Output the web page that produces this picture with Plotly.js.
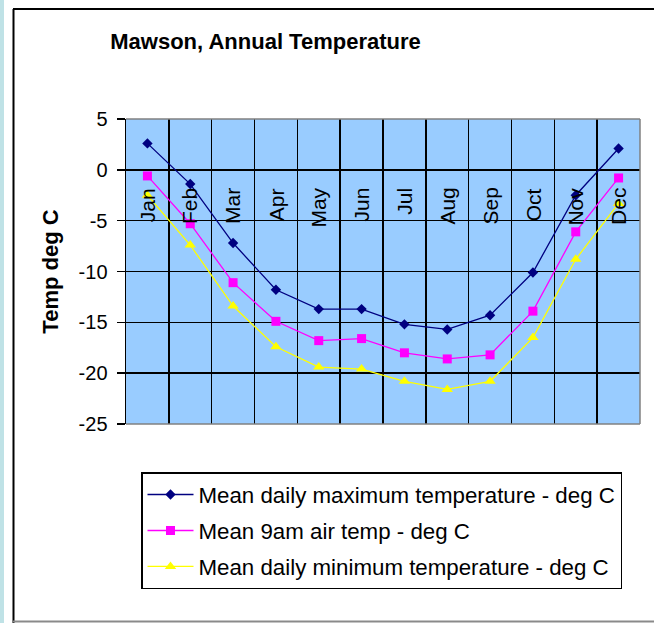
<!DOCTYPE html>
<html>
<head>
<meta charset="utf-8">
<script src="https://cdn.plot.ly/plotly-3.0.1.min.js"></script>
<style>
html,body{margin:0;padding:0;background:#fff;}
#chart{width:654px;height:623px;}
</style>
</head>
<body>
<div id="chart"></div>
<script>
// ---- data ----
var months = ["Jan","Feb","Mar","Apr","May","Jun","Jul","Aug","Sep","Oct","Nov","Dec"];
var meanMax = [2.6, -1.4, -7.2, -11.8, -13.7, -13.7, -15.2, -15.7, -14.3, -10.1, -2.5, 2.1];
var mean9am = [-0.6, -5.3, -11.1, -14.9, -16.8, -16.6, -18.0, -18.6, -18.2, -13.9, -6.1, -0.8];
var meanMin = [-2.5, -7.4, -13.4, -17.4, -19.4, -19.6, -20.8, -21.6, -20.8, -16.5, -8.8, -3.3];
var seriesNames = [
  "Mean daily maximum temperature - deg C",
  "Mean 9am air temp - deg C",
  "Mean daily minimum temperature - deg C"
];
var yTicks = [5, 0, -5, -10, -15, -20, -25];

// ---- layout geometry (pixels) ----
var W = 654, H = 623;
var PL = 126, PR = 640, PT = 119, PB = 424;
function px(x){ return (x - PL) / (PR - PL); }
function py(y){ return (PB - y) / (PB - PT); }

var FONT = '"Liberation Sans", Arial, sans-serif';

var traces = [
  {x: months, y: meanMax, name: seriesNames[0], type: 'scatter', mode: 'lines+markers',
   line: {color: '#000080', width: 1.3}, marker: {symbol: 'diamond', size: 8, color: '#000080'},
   legendgroup: 'a'},
  {x: months, y: mean9am, name: seriesNames[1], type: 'scatter', mode: 'lines+markers',
   line: {color: '#FF00FF', width: 1.3}, marker: {symbol: 'square', size: 9, color: '#FF00FF'},
   legendgroup: 'b'},
  {x: months, y: meanMin, name: seriesNames[2], type: 'scatter', mode: 'lines+markers',
   line: {color: '#FFFF00', width: 1.3}, marker: {symbol: 'triangle-up', size: 10, color: '#FFFF00'},
   legendgroup: 'c'}
];

var annotations = months.map(function(m){
  return {x: m, y: 0, xref: 'x', yref: 'y', text: m, showarrow: false,
    textangle: -90, xanchor: 'center', yanchor: 'top', yshift: -16,
    font: {family: FONT, size: 21, color: '#000'}};
});

var shapes = [
  // left cyan strip
  {type: 'rect', xref: 'paper', yref: 'paper', x0: px(0), x1: px(4), y0: py(H), y1: py(0),
   fillcolor: '#bfe2e6', line: {width: 0}, layer: 'below'},
  // outer chart border
  {type: 'line', xref: 'paper', yref: 'paper', x0: px(13.5), x1: px(13.5), y0: py(9), y1: py(H),
   line: {color: '#000', width: 2}},
  {type: 'line', xref: 'paper', yref: 'paper', x0: px(13), x1: px(W), y0: py(9), y1: py(9),
   line: {color: '#000', width: 2}},
  {type: 'line', xref: 'paper', yref: 'paper', x0: px(13), x1: px(W), y0: py(621.5), y1: py(621.5),
   line: {color: '#8a8a8a', width: 2}},
  // plot area grey frame (top, right, bottom)
  {type: 'line', xref: 'paper', yref: 'paper', x0: 0, x1: 1, y0: 1, y1: 1,
   line: {color: '#808080', width: 1.5}, layer: 'above'},
  {type: 'line', xref: 'paper', yref: 'paper', x0: 1, x1: 1, y0: 0, y1: 1,
   line: {color: '#808080', width: 1.5}, layer: 'above'},
  {type: 'line', xref: 'paper', yref: 'paper', x0: 0, x1: 1, y0: 0, y1: 0,
   line: {color: '#808080', width: 1.5}, layer: 'above'}
];

var layout = {
  width: W, height: H,
  margin: {l: PL, r: W - PR, t: PT, b: H - PB, pad: 0},
  paper_bgcolor: '#ffffff',
  plot_bgcolor: '#99CCFF',
  font: {family: FONT, color: '#000'},
  title: {text: 'Mawson, Annual Temperature', font: {family: FONT, size: 22, color: '#000', weight: 'bold'},
          x: px(265.5), xref: 'paper', xanchor: 'center', y: 1 - 41/H, yref: 'container', yanchor: 'middle'},
  xaxis: {type: 'category', categoryorder: 'array', categoryarray: months, range: [-0.5, 11.5],
          tickson: 'boundaries', showgrid: true, gridcolor: '#000', gridwidth: 1.5,
          showticklabels: false, ticks: '', showline: false, zeroline: false, fixedrange: true},
  yaxis: {range: [-25, 5], tickvals: yTicks, ticktext: yTicks.map(String),
          showgrid: true, gridcolor: '#000', gridwidth: 1.5, zeroline: false,
          showline: true, linecolor: '#000', linewidth: 1.5,
          ticks: 'outside', ticklen: 8, tickwidth: 1.5, tickcolor: '#000',
          ticklabelstandoff: 5,
          tickfont: {family: FONT, size: 20, color: '#000'},
          title: {text: 'Temp deg C', font: {family: FONT, size: 22, color: '#000', weight: 'bold'}, standoff: 14},
          automargin: false, fixedrange: true},
  showlegend: true,
  legend: {x: px(141), y: py(472), xanchor: 'left', yanchor: 'top',
           bgcolor: '#ffffff', bordercolor: '#000', borderwidth: 1.5,
           font: {family: FONT, size: 22.3, color: '#000'},
           tracegroupgap: 4, itemwidth: 46, traceorder: 'grouped'},
  annotations: annotations,
  shapes: shapes
};

Plotly.newPlot('chart', traces, layout, {displayModeBar: false, staticPlot: true});
</script>
</body>
</html>
